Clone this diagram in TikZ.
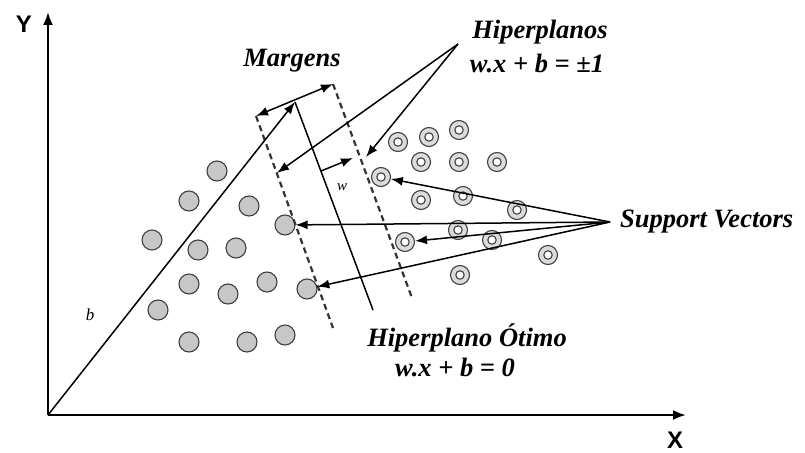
\documentclass[tikz,border=0pt]{standalone}
\usepackage{fontspec}
\setmainfont{Liberation Serif}
\newfontfamily\axisfont{Liberation Sans}
\usetikzlibrary{arrows.meta}
\begin{document}
\begin{tikzpicture}[x=1pt,y=-1pt,
  lab/.style={font=\fontsize{26.5}{29}\selectfont\bfseries\itshape, inner sep=0pt},
  axlab/.style={font=\axisfont\fontsize{24}{26}\selectfont\bfseries, inner sep=0pt},
  dot/.style={circle, draw=black!75, line width=1.1pt, fill=black!22, minimum size=20pt, inner sep=0pt},
  ring/.style={circle, draw=black!75, line width=1.1pt, fill=black!14, minimum size=19pt, inner sep=0pt,
     path picture={\draw[black!75, line width=1.1pt, fill=white] (path picture bounding box.center) circle (4.2pt);}},
  ln/.style={line width=1.5pt},
  arr/.style={line width=1.5pt, -{Latex[length=12pt,width=9pt]}},
  dashln/.style={line width=2.2pt, dash pattern=on 6pt off 4pt, black!80}
]
\useasboundingbox (0,0) rectangle (805,452);

% axes
\coordinate (O) at (48,415);
\coordinate (Ytop) at (48,12);
\coordinate (Xend) at (686,415);
\draw[line width=2.2pt, -{Latex[length=13pt,width=10pt]}] (O) -- (Ytop);
\draw[line width=2.2pt, -{Latex[length=13pt,width=10pt]}] (O) -- (Xend);
\node[axlab] (ylab) at (24,24) {Y};
\node[axlab] (xlab) at (675,440) {X};

% filled dots
\foreach \n/\x/\y in {d1/217/171, d2/189/201, d3/249/206, d4/152/240, d5/198/250, d6/236/248,
   d7/285/225, d8/189/284, d9/228/294, d10/267/282, d11/307/289, d12/158/310,
   d13/189/342, d14/247/342, d15/285/335}
  \node[dot] (\n) at (\x,\y) {};

% ringed dots
\foreach \n/\x/\y in {r1/398/142, r2/429/137, r3/459/130, r4/421/162, r5/459/162, r6/497/162,
   r7/381/177, r8/421/200, r9/463/196, r10/517/210, r11/458/230, r12/492/240,
   r13/405/242, r14/548/255, r15/460/275}
  \node[ring] (\n) at (\x,\y) {};

% margins and hyperplanes
\coordinate (mL) at (256,116);
\coordinate (mR) at (333,84);
\coordinate (mLb) at (333,328);
\coordinate (mRb) at (412,298);
\draw[dashln] (mL) -- (mLb);
\draw[dashln] (mR) -- (mRb);
\draw[line width=1.5pt, {Latex[length=12pt,width=9pt]}-{Latex[length=12pt,width=9pt]}] (mL) -- (mR);

\coordinate (hTop) at (295,102);
\coordinate (hBot) at (373,310);
\draw[ln] (hTop) -- (hBot);
\draw[arr] (O) -- (hTop);

\coordinate (wS) at (321,171);
\coordinate (wE) at (353,158);
\draw[arr] (wS) -- (wE);
\node[font=\fontsize{15}{16}\selectfont\itshape, inner sep=0pt] (wlab) at (342,187) {w};
\node[font=\fontsize{17}{18}\selectfont\itshape, inner sep=0pt] (blab) at (90,315) {b};

% Hiperplanos
\node[lab] (hip) at (540,32) {Hiperplanos};
\node[lab] (hipeq) at (537,63) {w.x + b = ±1};
\coordinate (hApex) at (458,44);
\coordinate (hL) at (277,173);
\coordinate (hR) at (366,157);
\draw[arr] (hApex) -- (hL);
\draw[arr] (hApex) -- (hR);

\node[lab] (marg) at (292,61) {Margens};

% Support vectors
\coordinate (sv) at (610,222);
\node[lab, anchor=west] (svlab) at (620,222) {Support Vectors};
\draw[arr] (sv) -- (r7);
\draw[arr] (sv) -- (d7);
\draw[arr] (sv) -- (r13);
\draw[arr] (sv) -- (d11);

% optimal hyperplane label
\node[lab] (opt) at (467,338) {Hiperplano Ótimo};
\node[lab] (opteq) at (455,367) {w.x + b = 0};
\end{tikzpicture}
\end{document}
